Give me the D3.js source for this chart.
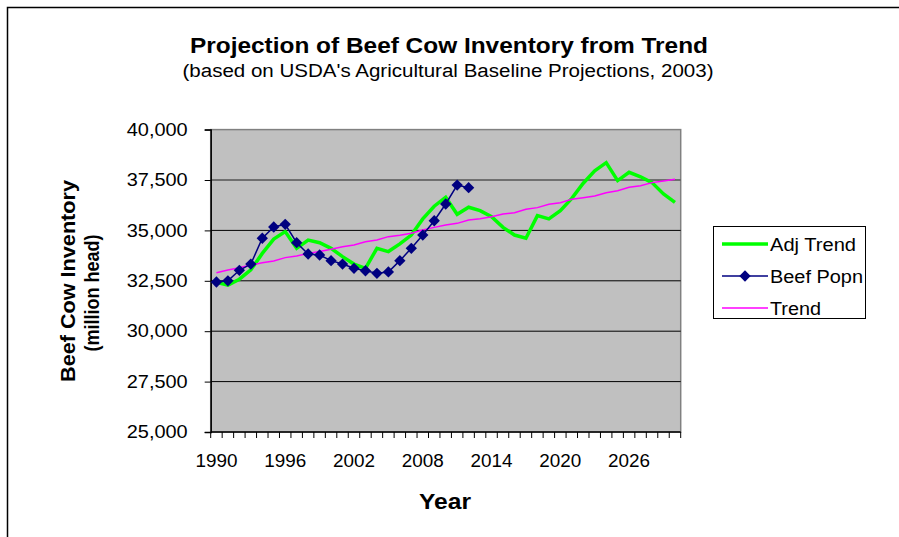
<!DOCTYPE html>
<html>
<head>
<meta charset="utf-8">
<script src="https://cdn.jsdelivr.net/npm/d3@7"></script>
<style>
  body { margin: 0; background: #fff; }
  text { font-family: "Liberation Sans", Arial, sans-serif; }
</style>
</head>
<body>
<div id="chart"></div>
<script>
// categories (one per year, 1990-2030)
const years = [1990, 1991, 1992, 1993, 1994, 1995, 1996, 1997, 1998, 1999,
  2000, 2001, 2002, 2003, 2004, 2005, 2006, 2007, 2008, 2009,
  2010, 2011, 2012, 2013, 2014, 2015, 2016, 2017, 2018, 2019,
  2020, 2021, 2022, 2023, 2024, 2025, 2026, 2027, 2028, 2029, 2030];
const yearLabels = [1990, 1996, 2002, 2008, 2014, 2020, 2026];
const yTicks = [25000, 27500, 30000, 32500, 35000, 37500, 40000];

// series values
const adjTrend = [32420, 32290, 32580, 33040, 33860, 34570, 34940, 34110, 34520, 34390,
  34110, 33700, 33330, 33120, 34110, 33950, 34330, 34770, 35570, 36200,
  36640, 35800, 36150, 35980, 35680, 35150, 34770, 34610, 35730, 35570,
  35980, 36590, 37340, 37960, 38360, 37470, 37880, 37660, 37370, 36810, 36390];
const beefPopn = [32440, 32500, 33020, 33330, 34610, 35170, 35300, 34390, 33830, 33780,
  33500, 33330, 33120, 33000, 32870, 32940, 33500, 34110, 34770, 35480,
  36310, 37250, 37120];
const trend = [32900, 33040, 33150, 33280, 33400, 33480, 33650, 33730, 33860, 33950,
  34060, 34190, 34280, 34440, 34520, 34690, 34760, 34860, 35020, 35150,
  35270, 35350, 35520, 35580, 35680, 35810, 35880, 36050, 36130, 36300,
  36370, 36540, 36620, 36710, 36870, 36970, 37140, 37220, 37370, 37450, 37540];

const width = 899, height = 537;
const plot = { left: 210.7, right: 680.7, top: 129.6, bottom: 432 };

const svg = d3.select("#chart").append("svg")
  .attr("width", width)
  .attr("height", height);

// outer chart border (runs off the right and bottom edges)
svg.append("rect")
  .attr("x", 7.5).attr("y", 7.5)
  .attr("width", 1000).attr("height", 1000)
  .attr("fill", "none")
  .attr("stroke", "#000")
  .attr("stroke-width", 1.5);

const x = d3.scaleBand().domain(years).range([plot.left, plot.right]);
const y = d3.scaleLinear().domain([25000, 40000]).range([plot.bottom, plot.top]);
const cx = d => x(d) + x.bandwidth() / 2;

// plot area
svg.append("rect")
  .attr("x", plot.left).attr("y", plot.top)
  .attr("width", plot.right - plot.left)
  .attr("height", plot.bottom - plot.top)
  .attr("fill", "#c0c0c0")
  .attr("stroke", "#808080")
  .attr("stroke-width", 1.5);

// gridlines
svg.append("g")
  .selectAll("line")
  .data(yTicks.filter(v => v > 25000 && v < 40000))
  .join("line")
  .attr("x1", plot.left).attr("x2", plot.right)
  .attr("y1", d => y(d)).attr("y2", d => y(d))
  .attr("stroke", d => d === 37500 ? "#555" : "#000")
  .attr("stroke-width", d => d === 37500 ? 1.6 : 1);

// y axis
const yAxis = svg.append("g")
  .attr("transform", `translate(${plot.left},0)`)
  .call(d3.axisLeft(y).tickValues(yTicks).tickSize(6).tickPadding(17)
    .tickFormat(d3.format(",")));
yAxis.select(".domain").attr("stroke-width", 1.5);
yAxis.selectAll("text")
  .attr("font-size", 18)
  .attr("fill", "#000")
  .attr("textLength", 61)
  .attr("lengthAdjust", "spacingAndGlyphs");

// x axis: tick at every category boundary, labels every 6 years
const xAxisG = svg.append("g")
  .attr("transform", `translate(0,${plot.bottom})`);
xAxisG.append("line")
  .attr("x1", plot.left).attr("x2", plot.right)
  .attr("stroke", "#000").attr("stroke-width", 1.5);
xAxisG.selectAll("line.tick")
  .data(years.concat([null]))
  .join("line")
  .attr("class", "tick")
  .attr("x1", (d, i) => plot.left + i * x.bandwidth())
  .attr("x2", (d, i) => plot.left + i * x.bandwidth())
  .attr("y1", 0).attr("y2", 6)
  .attr("stroke", "#000");
xAxisG.selectAll("text")
  .data(yearLabels)
  .join("text")
  .attr("x", d => cx(d))
  .attr("y", 35)
  .attr("text-anchor", "middle")
  .attr("font-size", 18)
  .attr("textLength", 42)
  .attr("lengthAdjust", "spacingAndGlyphs")
  .text(d => d);

// lines
const line = d3.line()
  .x((d, i) => cx(years[i]))
  .y(d => y(d));

svg.append("path")
  .datum(adjTrend)
  .attr("d", line)
  .attr("fill", "none")
  .attr("stroke", "#00ff00")
  .attr("stroke-width", 3.5)
  .attr("stroke-linejoin", "miter");

svg.append("path")
  .datum(trend)
  .attr("d", line)
  .attr("fill", "none")
  .attr("stroke", "#ff00ff")
  .attr("stroke-width", 1.5);

svg.append("path")
  .datum(beefPopn)
  .attr("d", line)
  .attr("fill", "none")
  .attr("stroke", "#000080")
  .attr("stroke-width", 1.5);

const diamond = d3.symbol(d3.symbolSquare, 64);
svg.append("g")
  .selectAll("path")
  .data(beefPopn)
  .join("path")
  .attr("d", diamond)
  .attr("transform", (d, i) => `translate(${cx(years[i])},${y(d)}) rotate(45)`)
  .attr("fill", "#000080");

// titles
svg.append("text")
  .attr("x", 449).attr("y", 53)
  .attr("text-anchor", "middle")
  .attr("font-size", 22).attr("font-weight", "bold")
  .attr("textLength", 518).attr("lengthAdjust", "spacingAndGlyphs")
  .text("Projection of Beef Cow Inventory from Trend");

svg.append("text")
  .attr("x", 448).attr("y", 77)
  .attr("text-anchor", "middle")
  .attr("font-size", 18)
  .attr("textLength", 531).attr("lengthAdjust", "spacingAndGlyphs")
  .text("(based on USDA's Agricultural Baseline Projections, 2003)");

svg.append("text")
  .attr("x", 445).attr("y", 509)
  .attr("text-anchor", "middle")
  .attr("font-size", 22).attr("font-weight", "bold")
  .attr("textLength", 52).attr("lengthAdjust", "spacingAndGlyphs")
  .text("Year");

svg.append("text")
  .attr("transform", "translate(75,281) rotate(-90)")
  .attr("text-anchor", "middle")
  .attr("font-size", 20).attr("font-weight", "bold")
  .attr("textLength", 202).attr("lengthAdjust", "spacingAndGlyphs")
  .text("Beef Cow Inventory");

svg.append("text")
  .attr("transform", "translate(99,293) rotate(-90)")
  .attr("text-anchor", "middle")
  .attr("font-size", 20).attr("font-weight", "bold")
  .attr("textLength", 117).attr("lengthAdjust", "spacingAndGlyphs")
  .text("(million head)");

// legend
const legendItems = [
  { name: "Adj Trend", color: "#00ff00", width: 3.5, marker: false, len: 86 },
  { name: "Beef Popn", color: "#000080", width: 1.5, marker: true, len: 93 },
  { name: "Trend", color: "#ff00ff", width: 1.5, marker: false, len: 51 }
];
const legend = svg.append("g");
legend.append("rect")
  .attr("x", 713.5).attr("y", 226.5)
  .attr("width", 152).attr("height", 92)
  .attr("fill", "#fff")
  .attr("stroke", "#000");
const rows = legend.selectAll("g.item")
  .data(legendItems)
  .join("g")
  .attr("class", "item")
  .attr("transform", (d, i) => `translate(0,${244 + i * 32})`);
rows.append("line")
  .attr("x1", 722).attr("x2", 768)
  .attr("stroke", d => d.color)
  .attr("stroke-width", d => d.width);
rows.filter(d => d.marker).append("path")
  .attr("d", diamond)
  .attr("transform", "translate(745,0) rotate(45)")
  .attr("fill", d => d.color);
rows.append("text")
  .attr("x", 770).attr("y", 6.5)
  .attr("font-size", 18)
  .attr("textLength", d => d.len)
  .attr("lengthAdjust", "spacingAndGlyphs")
  .text(d => d.name);
</script>
</body>
</html>
